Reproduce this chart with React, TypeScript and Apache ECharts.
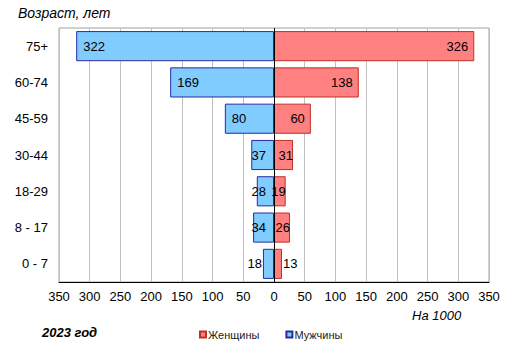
import React, { useEffect, useRef } from "react";
import * as echarts from "echarts";

const categories = ["0 - 7", "8 - 17", "18-29", "30-44", "45-59", "60-74", "75+"];
const men = [18, 34, 28, 37, 80, 169, 322];
const women = [13, 26, 19, 31, 60, 138, 326];
const xTicks = [-350, 350, 50];

const FONT = "Liberation Sans, Arial, sans-serif";

function menLabel(v: number) {
  if (v < 20) return { position: "left", distance: 1 };
  if (v < 40) return { position: "insideRight", distance: 8 };
  return { position: "insideLeft", distance: 7 };
}
function womenLabel(v: number) {
  if (v < 15) return { position: "right", distance: 1 };
  if (v < 40) return { position: "insideRight", distance: 0 };
  return { position: "insideRight", distance: 6 };
}

export default function App() {
  const ref = useRef<HTMLDivElement>(null);
  useEffect(() => {
    const chart = echarts.init(ref.current!, null, { renderer: "svg" });
    chart.setOption({
      animation: false,
      textStyle: { fontFamily: FONT },
      grid: {
        left: 59,
        right: 26,
        top: 28,
        bottom: 75,
        show: true,
        borderColor: "#a0a0a0",
        borderWidth: 1,
      },
      legend: {
        data: ["Женщины", "Мужчины"],
        left: 194,
        top: 324,
        itemWidth: 6,
        itemHeight: 6,
        itemGap: 26,
        icon: "rect",
        textStyle: { fontSize: 11, color: "#222", padding: [0, 0, 0, -3] },
      },
      xAxis: {
        type: "value",
        min: xTicks[0],
        max: xTicks[1],
        interval: xTicks[2],
        axisLine: { show: true, lineStyle: { color: "#000", width: 1 } },
        axisTick: { show: false },
        splitLine: { show: true, lineStyle: { color: "#c0c0c0" } },
        axisLabel: {
          color: "#000",
          fontSize: 13,
          margin: 8,
          formatter: (v: number) => String(Math.abs(v)),
        },
      },
      yAxis: {
        type: "category",
        data: categories,
        axisLine: { show: false },
        axisTick: { show: false },
        axisLabel: { color: "#000", fontSize: 13, margin: 11 },
      },
      series: [
        {
          name: "Мужчины",
          type: "bar",
          stack: "a",
          barWidth: "83%",
          itemStyle: { color: "#80ccff", borderColor: "#2a2aa0", borderWidth: 1 },
          data: men.map((v) => ({
            value: -v,
            label: {
              show: true,
              ...menLabel(v),
              formatter: String(v),
              color: "#000",
              fontSize: 13,
            },
          })),
          markLine: {
            silent: true,
            symbol: "none",
            label: { show: false },
            lineStyle: { color: "#000", type: "solid", width: 1 },
            data: [{ xAxis: 0 }],
          },
        },
        {
          name: "Женщины",
          type: "bar",
          stack: "a",
          barWidth: "83%",
          itemStyle: { color: "#ff8080", borderColor: "#c03020", borderWidth: 1 },
          data: women.map((v) => ({
            value: v,
            label: {
              show: true,
              ...womenLabel(v),
              formatter: String(v),
              color: "#000",
              fontSize: 13,
            },
          })),
        },
      ],
      graphic: [
        {
          type: "text",
          left: 18,
          top: 6,
          style: { text: "Возраст, лет", font: "italic 14px " + FONT, fill: "#000" },
        },
        {
          type: "text",
          left: 412,
          top: 309,
          style: { text: "На 1000", font: "italic 13px " + FONT, fill: "#000" },
        },
        {
          type: "text",
          left: 42,
          top: 326,
          style: { text: "2023 год", font: "italic bold 13px " + FONT, fill: "#000" },
        },
      ],
    });
    return () => chart.dispose();
  }, []);
  return (
    <div
      ref={ref}
      style={{ position: "absolute", left: 0, top: 0, width: 515, height: 357 }}
    />
  );
}
